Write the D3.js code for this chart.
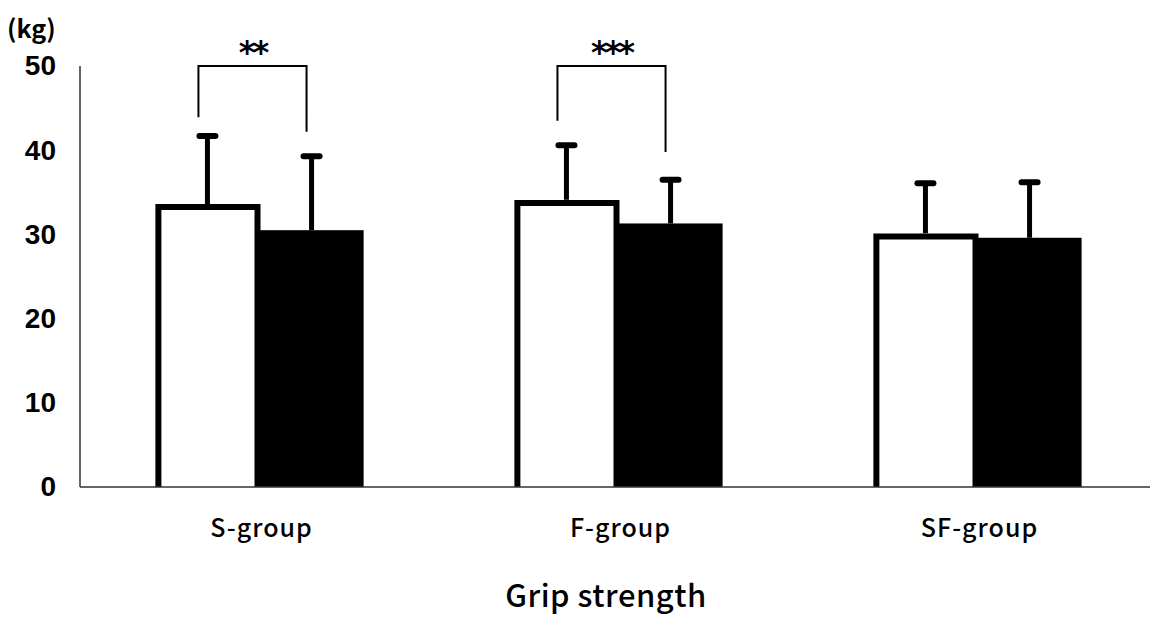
<!DOCTYPE html>
<html>
<head>
<meta charset="utf-8">
<script src="https://cdn.jsdelivr.net/npm/d3@7"></script>
<style>
  html, body { margin: 0; padding: 0; background: #fff; }
  svg { display: block; }
</style>
</head>
<body>
<svg id="chart" width="1150" height="618"></svg>
<script>
// Grip strength (kg), mean and upper SD, before (white) and after (black)
const groups = ["S-group", "F-group", "SF-group"];
const series = ["before", "after"];
const meanBefore = [33.6, 34.1, 30.1];
const meanAfter  = [30.5, 31.3, 29.6];
const sdTopBefore = [41.8, 40.7, 36.2];
const sdTopAfter  = [39.4, 36.6, 36.3];
const yTicks = [0, 10, 20, 30, 40, 50];
// significance brackets: group, marker, leg ends (kg)
const sigGroups = ["S-group", "F-group"];
const sigLabels = ["**", "***"];
const sigLeftEnd = [43.9, 43.5];
const sigRightEnd = [42.2, 39.8];
const sigTop = 50;

const svg = d3.select("#chart");
const W = 1150, H = 618;
const plotLeft = 80, plotTop = 66, plotBottom = 487;
const gothic = "Noto Sans CJK JP, Noto Sans, sans-serif";

const y = d3.scaleLinear().domain([0, 50]).range([plotBottom, plotTop]);
const x = d3.scaleBand().domain(groups).range([plotLeft, 1157])
  .paddingInner(0.42).paddingOuter(0.21);
const xs = d3.scaleBand().domain(series).range([0, x.bandwidth()]).padding(0);

const rows = groups.map((g, i) => ({
  g,
  vals: [
    { s: "before", v: meanBefore[i], sd: sdTopBefore[i] },
    { s: "after",  v: meanAfter[i],  sd: sdTopAfter[i] }
  ]
}));

// axes: plain lines, no tick marks
svg.append("line").attr("x1", plotLeft).attr("x2", plotLeft)
  .attr("y1", y(50)).attr("y2", y(0))
  .attr("stroke", "#333").attr("stroke-width", 1.5);

const yAxis = d3.axisLeft(y).tickValues(yTicks).tickSize(0).tickPadding(24);
const gy = svg.append("g").attr("transform", `translate(${plotLeft},0)`).call(yAxis);
gy.select(".domain").remove();
gy.selectAll("text")
  .attr("font-family", "Liberation Sans, Arial, sans-serif")
  .attr("font-weight", "bold")
  .attr("font-size", 28)
  .attr("fill", "#000");

svg.append("text").attr("x", 7).attr("y", 38)
  .attr("font-family", gothic)
  .attr("font-weight", "bold").attr("font-size", 25)
  .text("(kg)");

// bars
const gGroups = svg.selectAll("g.grp").data(rows).join("g")
  .attr("class", "grp")
  .attr("transform", d => `translate(${x(d.g)},0)`);

const sw = 6;
// error bars first so bars cover their bases
gGroups.selectAll("line.err").data(d => d.vals).join("line")
  .attr("class", "err")
  .attr("x1", d => xs(d.s) + xs.bandwidth() / 2)
  .attr("x2", d => xs(d.s) + xs.bandwidth() / 2)
  .attr("y1", d => y(d.v))
  .attr("y2", d => y(d.sd))
  .attr("stroke", "#000").attr("stroke-width", 5);

gGroups.selectAll("line.cap").data(d => d.vals).join("line")
  .attr("class", "cap")
  .attr("x1", d => xs(d.s) + xs.bandwidth() / 2 - 8)
  .attr("x2", d => xs(d.s) + xs.bandwidth() / 2 + 8)
  .attr("y1", d => y(d.sd) + 1)
  .attr("y2", d => y(d.sd) + 1)
  .attr("stroke", "#000").attr("stroke-width", 6)
  .attr("stroke-linecap", "round");

// white bars: filled box, outlined on left, top and right only
gGroups.selectAll("rect.before").data(d => [d.vals[0]]).join("rect")
  .attr("class", "before")
  .attr("x", d => xs(d.s))
  .attr("width", xs.bandwidth())
  .attr("y", d => y(d.v))
  .attr("height", d => y(0) - y(d.v))
  .attr("fill", "#fff");
gGroups.selectAll("path.before").data(d => [d.vals[0]]).join("path")
  .attr("class", "before")
  .attr("d", d => {
    const x0 = xs(d.s) + sw / 2, x1 = xs(d.s) + xs.bandwidth() - sw / 2 + 1;
    return `M${x0},${y(0)}V${y(d.v) + sw / 2}H${x1}V${y(0)}`;
  })
  .attr("fill", "none")
  .attr("stroke", "#000").attr("stroke-width", sw)
  .attr("stroke-linejoin", "miter");

// black bars, drawn over the neighbouring white bar's right edge
gGroups.selectAll("rect.after").data(d => [d.vals[1]]).join("rect")
  .attr("class", "after")
  .attr("x", d => xs(d.s) - 1)
  .attr("width", xs.bandwidth() + 1)
  .attr("y", d => y(d.v))
  .attr("height", d => y(0) - y(d.v))
  .attr("fill", "#000");

// x axis baseline
svg.append("line").attr("x1", plotLeft).attr("x2", W)
  .attr("y1", y(0)).attr("y2", y(0))
  .attr("stroke", "#333").attr("stroke-width", 1.5);

// group labels
svg.selectAll("text.cat").data(groups).join("text")
  .attr("class", "cat")
  .attr("x", d => x(d) + x.bandwidth() / 2 + 2)
  .attr("y", 537)
  .attr("text-anchor", "middle")
  .attr("font-family", gothic)
  .attr("font-weight", 500)
  .attr("font-size", 25)
  .attr("letter-spacing", 1)
  .text(d => d);

// significance brackets
sigGroups.forEach((g, i) => {
  const xl = x(g) + xs("before") + xs.bandwidth() / 2 - 9;
  const xr = x(g) + xs("after") + xs.bandwidth() / 2 - 5;
  svg.append("path")
    .attr("d", `M${xl},${y(sigLeftEnd[i])}V${y(sigTop)}H${xr}V${y(sigRightEnd[i])}`)
    .attr("fill", "none").attr("stroke", "#000").attr("stroke-width", 2);
  svg.append("text")
    .attr("x", (xl + xr) / 2)
    .attr("y", y(sigTop) - 3)
    .attr("text-anchor", "middle")
    .attr("font-family", "DejaVu Sans, sans-serif")
    .attr("font-weight", "bold")
    .attr("font-size", 32)
    .attr("letter-spacing", -3)
    .text(sigLabels[i]);
});

// axis title
svg.append("text")
  .attr("x", 606).attr("y", 607)
  .attr("text-anchor", "middle")
  .attr("font-family", gothic)
  .attr("font-weight", 500)
  .attr("font-size", 31)
  .attr("letter-spacing", 0.5)
  .text("Grip strength");
</script>
</body>
</html>
